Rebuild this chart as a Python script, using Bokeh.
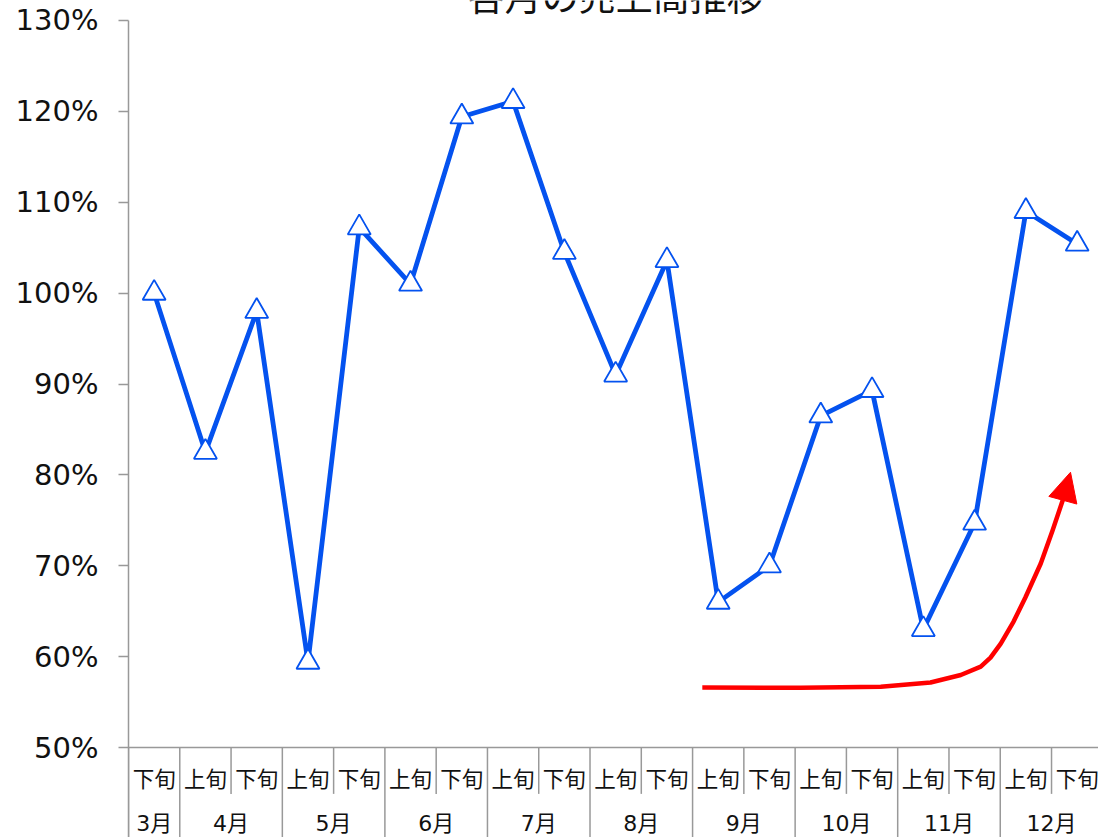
from bokeh.plotting import figure
from bokeh.models import Range1d, FixedTicker, PrintfTickFormatter, Span, Arrow, NormalHead, ColumnDataSource
from bokeh.core.properties import value
from bokeh.embed import file_html
from bokeh.resources import INLINE

# ---- data ----
title = "各月の売上高推移"
point_months = ["3月", "4月", "4月", "5月", "5月", "6月", "6月", "7月", "7月", "8月",
                "8月", "9月", "9月", "10月", "10月", "11月", "11月", "12月", "12月"]
periods = ["下旬", "上旬", "下旬", "上旬", "下旬", "上旬", "下旬", "上旬", "下旬", "上旬",
           "下旬", "上旬", "下旬", "上旬", "下旬", "上旬", "下旬", "上旬", "下旬"]
sales_pct = [100.0, 82.5, 98.0, 59.4, 107.2, 101.0, 119.4, 121.1, 104.5, 91.0,
             103.6, 66.0, 70.0, 86.5, 89.3, 63.0, 74.7, 109.0, 105.4]
y_ticks = [50, 60, 70, 80, 90, 100, 110, 120, 130]

# trend arrow (annotation) path, in category-index / percent units
trend_x = [11.19, 13.11, 14.67, 15.64, 16.23, 16.62, 16.81, 17.01, 17.26, 17.49, 17.79, 18.02, 18.23]
trend_y = [56.60, 56.57, 56.69, 57.15, 57.98, 58.91, 59.90, 61.44, 63.86, 66.51, 70.25, 73.88, 77.40]
trend_tip = (18.37, 80.29)

FONT = "Noto Sans CJK JP"
NUM_FONT = "DejaVu Sans, Noto Sans CJK JP"
BLUE = "#0452EF"
GRAY = "#999999"

n = len(sales_pct)
xs = [i + 0.5 for i in range(n)]

Y_BOTTOM = 40.1
Y_TOP = 132.2
p = figure(width=1098, height=837, output_backend="svg", toolbar_location=None,
           x_range=Range1d(0, 18.916), y_range=Range1d(Y_BOTTOM, Y_TOP),
           x_axis_location=None, min_border_left=128, min_border_right=0,
           min_border_top=0, min_border_bottom=0)
p.outline_line_color = None
p.xgrid.visible = False
p.ygrid.visible = False
p.background_fill_color = "white"
p.border_fill_color = "white"

yax = p.yaxis[0]
yax.bounds = (Y_BOTTOM, 130)
yax.ticker = FixedTicker(ticks=y_ticks)
yax.formatter = PrintfTickFormatter(format="%d%%")
yax.major_tick_out = 10
yax.major_tick_in = 0
yax.minor_tick_line_color = None
yax.axis_line_color = GRAY
yax.axis_line_width = 1.5
yax.major_tick_line_color = GRAY
yax.major_tick_line_width = 1.5
yax.major_label_standoff = 20
yax.major_label_text_font = "DejaVu Sans"
yax.major_label_text_font_size = "29px"
yax.major_label_text_color = "#111111"

# horizontal axis line at 50%
p.add_layout(Span(location=50, dimension="width", line_color=GRAY, line_width=1.5))

# category separators
inner_b, month_b = [], []
for k in range(n + 1):
    if k == 0 or k == n or point_months[k] != point_months[k - 1]:
        month_b.append(k)
    else:
        inner_b.append(k)
p.segment(x0=inner_b, x1=inner_b, y0=[50] * len(inner_b), y1=[44.9] * len(inner_b),
          line_color=GRAY, line_width=1.5)
p.segment(x0=month_b, x1=month_b, y0=[50] * len(month_b), y1=[Y_BOTTOM] * len(month_b),
          line_color=GRAY, line_width=1.5)

# period labels
p.text(x=xs, y=[46.7] * n, text=periods, text_font=value(FONT), text_font_size="21.5px",
       text_align="center", text_baseline="middle", text_color="#111111")
# month labels
month_names, month_centers = [], []
for i, m in enumerate(point_months):
    if m not in month_names:
        month_names.append(m)
        idx = [j for j, mm in enumerate(point_months) if mm == m]
        month_centers.append((min(idx) + max(idx)) / 2 + 0.5)
p.text(x=month_centers, y=[41.64] * len(month_names), text=month_names, text_font=value(NUM_FONT),
       text_font_size="22px", text_align="center", text_baseline="middle", text_color="#111111")

# series
src = ColumnDataSource(dict(x=xs, y=sales_pct))
p.line("x", "y", source=src, line_color=BLUE, line_width=4.8, line_join="round")
p.scatter("x", "y", source=src, marker="triangle", size=23, fill_color="white",
          line_color=BLUE, line_width=1.8)

# trend arrow
p.line(trend_x, trend_y, line_color="#FF0000", line_width=4.5, line_join="round")
p.add_layout(Arrow(end=NormalHead(size=29, fill_color="#FF0000", line_color="#FF0000", line_width=1),
                   x_start=trend_x[-1], y_start=trend_y[-1], x_end=trend_tip[0], y_end=trend_tip[1],
                   line_color="#FF0000", line_width=4.5))

# title (partially above the window)
p.text(x=[n / 2], y=[129.8], text=[title], text_font=value(FONT), text_font_size="37px",
       text_align="center", text_baseline="bottom", text_color="#111111")

open("out.html", "w").write(file_html(p, INLINE))
